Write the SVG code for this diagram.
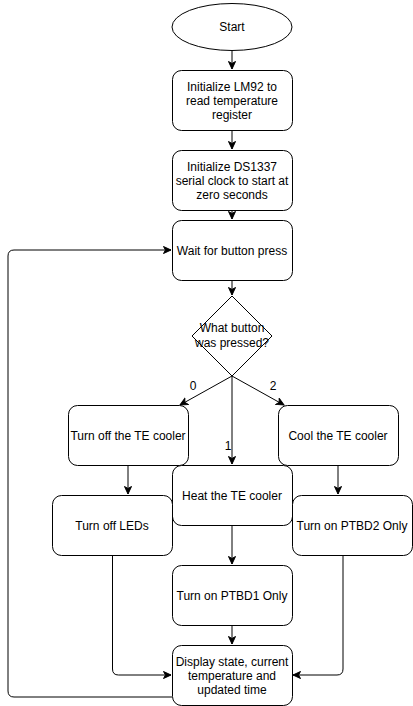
<svg xmlns="http://www.w3.org/2000/svg" width="413" height="706" viewBox="0 0 413 706">
<defs>
<marker id="arr" markerWidth="10" markerHeight="10" refX="8" refY="4" orient="auto" markerUnits="userSpaceOnUse">
<path d="M0.5,0.5 L8,4 L0.5,7.5 L2.5,4 Z" fill="#000" stroke="#000" stroke-width="1"/>
</marker>
<style>
.n{fill:#fff;stroke:#000;stroke-width:1}
.t{font-family:"Liberation Sans",Arial,sans-serif;font-size:12px;fill:#000;text-anchor:middle}
.c{fill:none;stroke:#000;stroke-width:1}
</style>
</defs>
<rect width="413" height="706" fill="#fff"/>
<g id="connectors">
<path class="c" d="M232,50.5 V69" marker-end="url(#arr)"/>
<path class="c" d="M232,130 V149" marker-end="url(#arr)"/>
<path class="c" d="M232,210 V219" marker-end="url(#arr)"/>
<path class="c" d="M232,280 V295" marker-end="url(#arr)"/>
<path class="c" d="M232,376 L180,405" marker-end="url(#arr)"/>
<path class="c" d="M232,376 L284,405" marker-end="url(#arr)"/>
<path class="c" d="M232,376 V464" marker-end="url(#arr)"/>
<path class="c" d="M128,465 V494" marker-end="url(#arr)"/>
<path class="c" d="M338,465 V494" marker-end="url(#arr)"/>
<path class="c" d="M232,525 V564" marker-end="url(#arr)"/>
<path class="c" d="M232,625 V644" marker-end="url(#arr)"/>
<path class="c" d="M112.5,555 V669 Q112.5,675 118.5,675 H171" marker-end="url(#arr)"/>
<path class="c" d="M343,555 V669 Q343,675 337,675 H293" marker-end="url(#arr)"/>
<path class="c" d="M172,697 H14 Q8,697 8,691 V256 Q8,250 14,250 H171" marker-end="url(#arr)"/>
<text class="t" x="193" y="390">0</text>
<text class="t" x="273" y="390">2</text>
<text class="t" x="228" y="450">1</text>
</g>
<g id="start">
<ellipse class="n" cx="232" cy="27" rx="60" ry="23.5"/>
<text class="t" x="232" y="31">Start</text>
</g>
<g id="init-lm92">
<rect class="n" x="172.5" y="70.5" width="120" height="60" rx="9"/>
<text class="t" x="232" y="91">Initialize LM92 to</text>
<text class="t" x="232" y="105">read temperature</text>
<text class="t" x="232" y="119">register</text>
</g>
<g id="init-ds1337">
<rect class="n" x="172.5" y="150.5" width="120" height="60" rx="9"/>
<text class="t" x="232" y="171">Initialize DS1337</text>
<text class="t" x="232" y="185">serial clock to start at</text>
<text class="t" x="232" y="199">zero seconds</text>
</g>
<g id="wait">
<rect class="n" x="172.5" y="220.5" width="120" height="60" rx="9"/>
<text class="t" x="232" y="255">Wait for button press</text>
</g>
<g id="decision">
<polygon class="n" points="232,296 272,336 232,376 192,336"/>
<text class="t" x="232" y="332">What button</text>
<text class="t" x="232" y="347">was pressed?</text>
</g>
<g id="turn-off-te">
<rect class="n" x="68.5" y="405.5" width="120" height="60" rx="9"/>
<text class="t" x="128" y="440">Turn off the TE cooler</text>
</g>
<g id="cool-te">
<rect class="n" x="278.5" y="405.5" width="120" height="60" rx="9"/>
<text class="t" x="338" y="440">Cool the TE cooler</text>
</g>
<g id="heat-te">
<rect class="n" x="172.5" y="465.5" width="120" height="60" rx="9"/>
<text class="t" x="232" y="500">Heat the TE cooler</text>
</g>
<g id="turn-off-leds">
<rect class="n" x="52.5" y="495.5" width="120" height="60" rx="9"/>
<text class="t" x="112" y="530">Turn off LEDs</text>
</g>
<g id="ptbd2">
<rect class="n" x="292.5" y="495.5" width="120" height="60" rx="9"/>
<text class="t" x="352" y="530">Turn on PTBD2 Only</text>
</g>
<g id="ptbd1">
<rect class="n" x="172.5" y="565.5" width="120" height="60" rx="9"/>
<text class="t" x="232" y="600">Turn on PTBD1 Only</text>
</g>
<g id="display">
<rect class="n" x="172.5" y="645.5" width="120" height="60" rx="9"/>
<text class="t" x="232" y="666">Display state, current</text>
<text class="t" x="232" y="680">temperature and</text>
<text class="t" x="232" y="694">updated time</text>
</g>
</svg>
